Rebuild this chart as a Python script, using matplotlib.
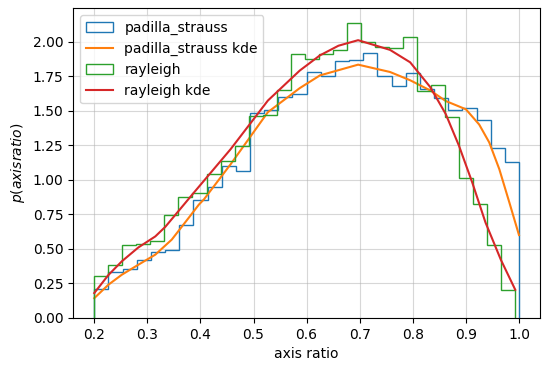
import matplotlib
matplotlib.use("Agg")
import matplotlib.pyplot as plt
import numpy as np

# histogram densities (30 bins each)
padilla_range = (0.2, 1.0)
padilla_density = [0.211, 0.335, 0.356, 0.42, 0.475, 0.495, 0.67, 0.851, 0.95, 1.10,
                   1.064, 1.48, 1.508, 1.598, 1.62, 1.78, 1.75, 1.857, 1.864, 1.917,
                   1.748, 1.675, 1.772, 1.658, 1.593, 1.505, 1.52, 1.433, 1.227, 1.125]
rayleigh_range = (0.2, 0.993)
rayleigh_density = [0.30, 0.38, 0.528, 0.536, 0.56, 0.742, 0.878, 0.907, 1.042, 1.135,
                    1.241, 1.46, 1.469, 1.646, 1.913, 1.871, 1.908, 1.937, 2.135, 1.997,
                    1.961, 1.956, 2.034, 1.641, 1.687, 1.452, 1.016, 0.827, 0.531, 0.204]

# kde curves
padilla_kde_x = [0.2, 0.2265, 0.252, 0.283, 0.315, 0.346, 0.378, 0.397, 0.4066, 0.457,
                 0.527, 0.587, 0.625, 0.697, 0.757, 0.795, 0.833, 0.862, 0.90, 0.925,
                 0.944, 0.963, 0.982, 1.0]
padilla_kde_y = [0.143, 0.24, 0.313, 0.385, 0.458, 0.567, 0.725, 0.82, 0.858, 1.113,
                 1.489, 1.663, 1.755, 1.833, 1.78, 1.72, 1.646, 1.57, 1.51, 1.40,
                 1.27, 1.076, 0.834, 0.60]
rayleigh_kde_x = [0.2, 0.2265, 0.252, 0.283, 0.315, 0.334, 0.359, 0.3877, 0.457, 0.527,
                  0.587, 0.625, 0.66, 0.697, 0.757, 0.795, 0.833, 0.862, 0.887, 0.912,
                  0.937, 0.966, 0.993]
rayleigh_kde_y = [0.18, 0.31, 0.41, 0.51, 0.59, 0.66, 0.775, 0.907, 1.222, 1.573,
                  1.79, 1.90, 1.97, 2.01, 1.94, 1.85, 1.67, 1.476, 1.246, 0.98,
                  0.69, 0.42, 0.204]

fig, ax = plt.subplots(figsize=(5.49, 3.71), dpi=100)
fig.subplots_adjust(left=0.133, right=0.984, top=0.978, bottom=0.143)

p_edges = np.linspace(padilla_range[0], padilla_range[1], len(padilla_density) + 1)
r_edges = np.linspace(rayleigh_range[0], rayleigh_range[1], len(rayleigh_density) + 1)

ax.hist((p_edges[:-1] + p_edges[1:]) / 2, bins=p_edges, weights=padilla_density,
        histtype='step', color='C0', label='padilla_strauss')
ax.plot(padilla_kde_x, padilla_kde_y, color='C1', label='padilla_strauss kde')
ax.hist((r_edges[:-1] + r_edges[1:]) / 2, bins=r_edges, weights=rayleigh_density,
        histtype='step', color='C2', label='rayleigh')
ax.plot(rayleigh_kde_x, rayleigh_kde_y, color='C3', label='rayleigh kde')

ax.set_xlabel('axis ratio')
ax.set_ylabel(r'$p(axis ratio)$')
ax.grid(alpha=0.5)
ax.legend(loc='upper left')

fig.savefig('out.png')
